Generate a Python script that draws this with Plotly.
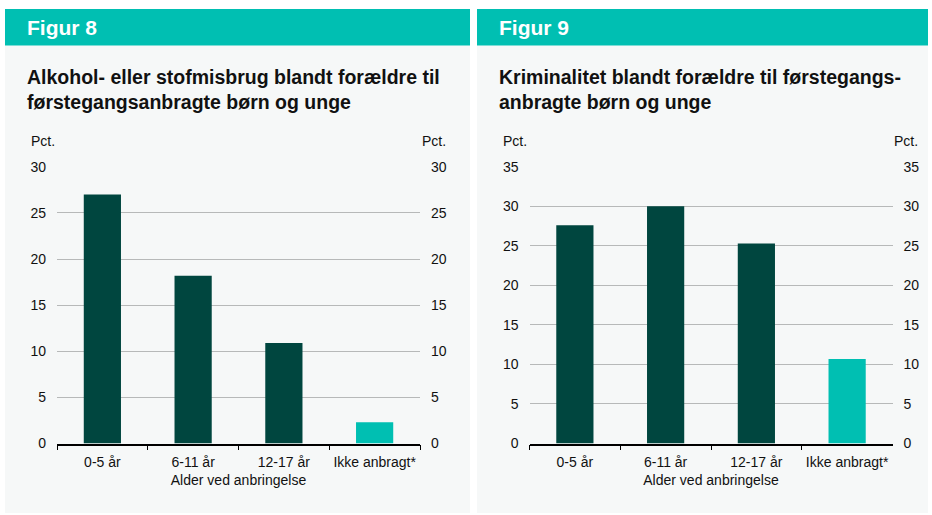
import plotly.graph_objects as go

# data
kategorier = ["0-5 år", "6-11 år", "12-17 år", "Ikke anbragt*"]
misbrug = [27.0, 18.2, 10.9, 2.3]
kriminalitet = [27.6, 30.0, 25.3, 10.7]
ticks_fig8 = [0, 5, 10, 15, 20, 25, 30]
ticks_fig9 = [0, 5, 10, 15, 20, 25, 30, 35]

MORK = "#00463F"
TURKIS = "#00BFB2"
farver = [MORK, MORK, MORK, TURKIS]
FONT = "Liberation Sans, Arial, sans-serif"
TXT = "#111"
W, H = 932, 515


def px_x(p):
    return p / W


def px_y(p):
    return 1 - p / H


fig = go.Figure()
fig.add_trace(go.Bar(x=kategorier, y=misbrug, marker=dict(color=farver, line=dict(width=0)),
                     width=0.41, xaxis="x", yaxis="y", showlegend=False))
fig.add_trace(go.Bar(x=kategorier, y=kriminalitet, marker=dict(color=farver, line=dict(width=0)),
                     width=0.41, xaxis="x2", yaxis="y2", showlegend=False))
# usynlige spor til hoejre akser
fig.add_trace(go.Bar(x=kategorier, y=misbrug, opacity=0, xaxis="x", yaxis="y3",
                     showlegend=False, hoverinfo="skip"))
fig.add_trace(go.Bar(x=kategorier, y=kriminalitet, opacity=0, xaxis="x2", yaxis="y4",
                     showlegend=False, hoverinfo="skip"))

xfelles = dict(type="category", range=[-0.5, 3.5], showline=True, linecolor="black", linewidth=1.5,
               ticks="outside", tickson="boundaries", ticklen=5, tickcolor="black", tickwidth=1,
               showgrid=False, tickangle=0, automargin=False, ticklabelstandoff=5,
               tickfont=dict(size=14, color=TXT),
               title=dict(text="Alder ved anbringelse", font=dict(size=14, color=TXT), standoff=6))
yfelles = dict(showline=False, zeroline=False, gridcolor="#b7b9b9", gridwidth=1, automargin=False,
               tickfont=dict(size=14, color=TXT), ticks="", ticklabelstandoff=10)
yhoejre = dict(side="right", showgrid=False, zeroline=False, automargin=False,
               tickfont=dict(size=14, color=TXT), ticklabelstandoff=10)

ylo, yhi = px_y(443.5), px_y(166.8)
fig.update_layout(
    width=W, height=H, margin=dict(l=0, r=0, t=0, b=0, autoexpand=False),
    paper_bgcolor="white", plot_bgcolor="rgba(0,0,0,0)",
    font=dict(family=FONT), bargap=0.59, showlegend=False,
    xaxis=dict(domain=[px_x(57), px_x(420)], anchor="y", **xfelles),
    xaxis2=dict(domain=[px_x(529.5), px_x(892.5)], anchor="y2", **xfelles),
    yaxis=dict(domain=[ylo, yhi], range=[0, 30], tickvals=ticks_fig8, anchor="x", **yfelles),
    yaxis2=dict(domain=[ylo, yhi], range=[0, 35], tickvals=ticks_fig9, anchor="x2", **yfelles),
    yaxis3=dict(range=[0, 30], tickvals=ticks_fig8, overlaying="y", anchor="x", **yhoejre),
    yaxis4=dict(range=[0, 35], tickvals=ticks_fig9, overlaying="y2", anchor="x2", **yhoejre),
)

# paneler og overskriftsbjaelker
for x0, x1 in [(5, 470), (477, 928)]:
    fig.add_shape(type="rect", xref="paper", yref="paper", x0=px_x(x0), x1=px_x(x1),
                  y0=px_y(513), y1=px_y(45.5), fillcolor="#F6F8F8", line=dict(width=0), layer="below")
    fig.add_shape(type="rect", xref="paper", yref="paper", x0=px_x(x0), x1=px_x(x1),
                  y0=px_y(45.5), y1=px_y(9), fillcolor=TURKIS, line=dict(width=0), layer="below")

tekster = [
    (25, "Figur 8", "Alkohol- eller stofmisbrug blandt forældre til<br>førstegangsanbragte børn og unge", 29, 448),
    (497, "Figur 9", "Kriminalitet blandt forældre til førstegangs-<br>anbragte børn og unge", 501, 920),
]
for x, fig_navn, titel, pct_l, pct_r in tekster:
    fig.add_annotation(xref="paper", yref="paper", x=px_x(x), y=px_y(27), xanchor="left", yanchor="middle",
                       text=f"<b>{fig_navn}</b>", showarrow=False, font=dict(size=21, color="white"))
    fig.add_annotation(xref="paper", yref="paper", x=px_x(x), y=px_y(63.5), xanchor="left", yanchor="top",
                       text=f"<b>{titel}</b>", showarrow=False, align="left",
                       font=dict(size=19.5, color=TXT))
    fig.add_annotation(xref="paper", yref="paper", x=px_x(pct_l), y=px_y(141), xanchor="left", yanchor="middle",
                       text="Pct.", showarrow=False, font=dict(size=14, color=TXT))
    fig.add_annotation(xref="paper", yref="paper", x=px_x(pct_r), y=px_y(141), xanchor="right", yanchor="middle",
                       text="Pct.", showarrow=False, font=dict(size=14, color=TXT))

fig.write_html("out.html", config={"displayModeBar": False},
               post_script="document.body.style.margin='0px';")
